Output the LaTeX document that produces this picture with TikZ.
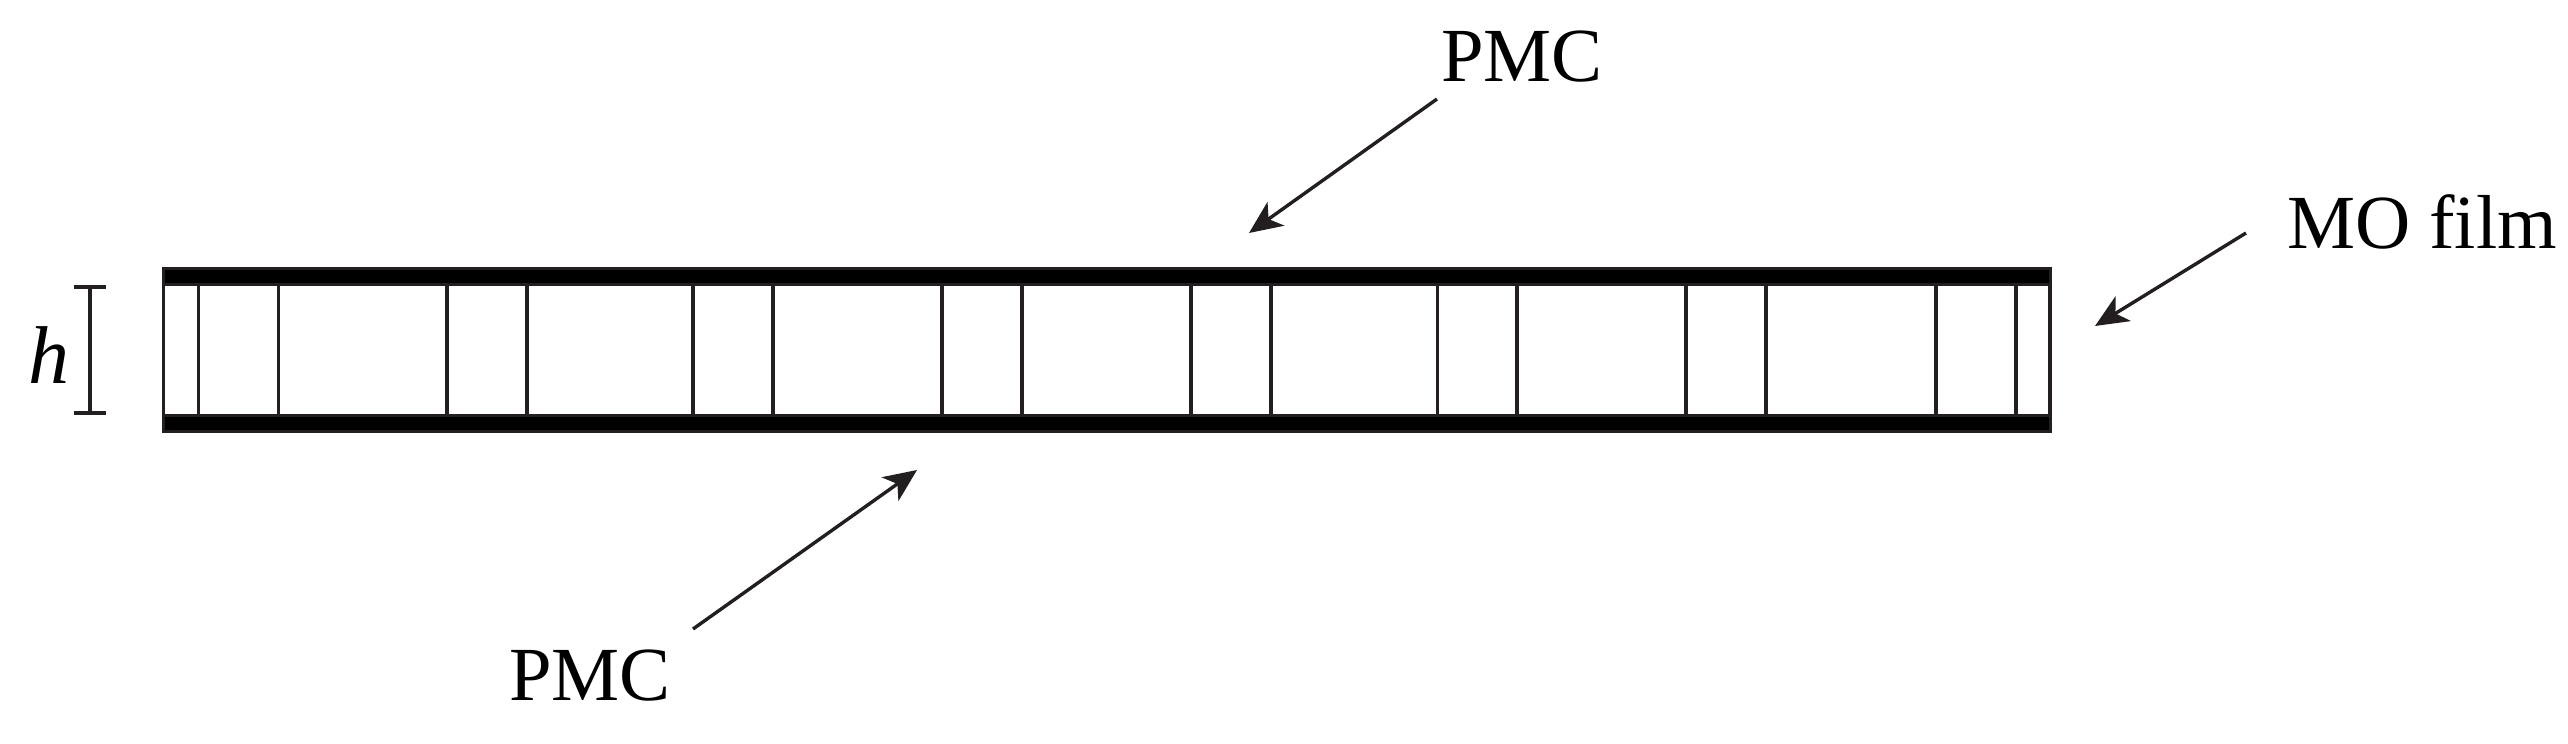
\documentclass[tikz,border=0pt]{standalone}
\usepackage{fontspec}
\setmainfont{Liberation Serif}
\usetikzlibrary{arrows.meta}
\definecolor{ink}{HTML}{231F20}
\tikzset{
  x=1pt,y=-1pt,
  lab/.style={inner sep=0pt,outer sep=0pt,anchor=base west,text=black,font=\fontsize{76.5}{80}\selectfont},
  wall/.style={draw=ink,line width=3.6pt},
  bar/.style={draw=ink,line width=3pt,fill=black},
  arrowline/.style={draw=ink,line width=3.4pt,-{Stealth[length=33pt,width=29pt,inset=9pt,color=ink]}}
}
\begin{document}
\begin{tikzpicture}
\useasboundingbox (0,0) rectangle (2568,744);
% film walls
\foreach \xx in {163.5,198.5,278.5,447,527,693,773,942,1022,1191,1271,1437.5,1517,1686,1766,1936,2016,2050}
  \draw[wall] (\xx,285) -- (\xx,415);
% bars
\draw[bar] (163.5,268.5) rectangle (2050.5,284);
\draw[bar] (163.5,415) rectangle (2050.5,431.5);
% h dimension
\coordinate (hT) at (90,287);
\coordinate (hB) at (90,413);
\draw[wall] (hT) -- (hB);
\draw[wall,line width=4.5pt] (74,287) -- (106,287);
\draw[wall,line width=4.5pt] (74,413) -- (106,413);
\node[lab,font=\fontsize{82}{84}\selectfont\itshape] (h) at (28,383) {h};
% labels
\node[lab] (pmcT) at (1441,81) {PMC};
\node[lab] (pmcB) at (509,700) {PMC};
\node[lab] (mo) at (2287,248) {MO film};
% arrow ends
\coordinate (aT) at (1437,99);
\coordinate (tT) at (1249,233);
\coordinate (aB) at (693,629);
\coordinate (tB) at (917,470);
\coordinate (aM) at (2246,233);
\coordinate (tM) at (2095,326);
\draw[arrowline] (aT) -- (tT);
\draw[arrowline] (aB) -- (tB);
\draw[arrowline] (aM) -- (tM);
\end{tikzpicture}
\end{document}
